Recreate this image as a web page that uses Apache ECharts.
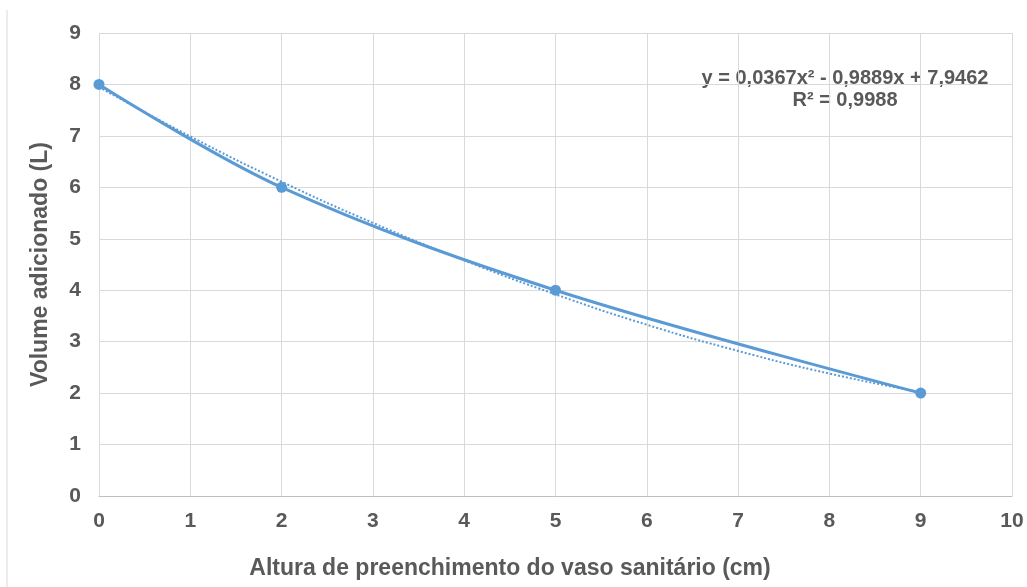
<!DOCTYPE html>
<html>
<head>
<meta charset="utf-8">
<script src="https://cdn.jsdelivr.net/npm/echarts@6/dist/echarts.min.js"></script>
<style>
html,body{margin:0;padding:0;background:#fff;}
#chart{width:1027px;height:587px;}
</style>
</head>
<body>
<div id="chart"></div>
<script>
// Measured data (x: altura cm, y: volume L)
var alturaCm = [0, 2, 5, 9];
var volumeL = [8, 6, 4, 2];
// Polynomial trendline
var trendX = [0, 1, 2, 3, 4, 5, 6, 7, 8, 9];
var trendY = [7.95, 6.99, 6.11, 5.31, 4.58, 3.92, 3.33, 2.82, 2.38, 2.02];
var equationText = 'y = 0,0367x² - 0,9889x + 7,9462';
var r2Text = 'R² = 0,9988';
var xAxisTitle = 'Altura de preenchimento do vaso sanitário (cm)';
var yAxisTitle = 'Volume adicionado (L)';

var measured = alturaCm.map(function (x, i) { return [x, volumeL[i]]; });
var trend = trendX.map(function (x, i) { return [x, trendY[i]]; });

var chart = echarts.init(document.getElementById('chart'));
var txtColor = '#595959';
var font = 'Arial, "Liberation Sans", sans-serif';
chart.setOption({
  animation: false,
  backgroundColor: '#fff',
  grid: { left: 99, right: 15, top: 33, bottom: 91 },
  xAxis: {
    type: 'value', min: 0, max: 10, interval: 1,
    axisLine: { show: true, lineStyle: { color: '#bfbfbf', width: 1 } },
    axisTick: { show: false },
    axisLabel: { color: txtColor, fontSize: 21, fontWeight: 'bold', fontFamily: font, margin: 15 },
    splitLine: { show: true, lineStyle: { color: '#d9d9d9', width: 1 } }
  },
  yAxis: {
    type: 'value', min: 0, max: 9, interval: 1,
    name: yAxisTitle, nameLocation: 'middle', nameGap: 47, nameRotate: 90,
    nameTextStyle: { color: txtColor, fontSize: 23, fontWeight: 'bold', fontFamily: font },
    axisLine: { show: false },
    axisTick: { show: false },
    axisLabel: { color: txtColor, fontSize: 21, fontWeight: 'bold', fontFamily: font, margin: 18 },
    splitLine: { show: true, lineStyle: { color: '#d9d9d9', width: 1 } }
  },
  graphic: [
    { type: 'line', shape: { x1: 7, y1: 10, x2: 7, y2: 587 }, style: { stroke: '#d9d9d9', lineWidth: 1 } },
    { type: 'text', x: 510, y: 569, style: { text: xAxisTitle, fill: txtColor, font: 'bold 23px ' + font, textAlign: 'center', textVerticalAlign: 'middle' } },
    { type: 'text', x: 845, y: 78, style: { text: equationText, fill: txtColor, font: 'bold 20px ' + font, textAlign: 'center', textVerticalAlign: 'middle' } },
    { type: 'text', x: 845, y: 100, style: { text: r2Text, fill: txtColor, font: 'bold 20px ' + font, textAlign: 'center', textVerticalAlign: 'middle' } }
  ],
  series: [
    {
      type: 'line', data: trend, smooth: true, showSymbol: false, symbol: 'none',
      lineStyle: { color: '#5B9BD5', width: 2, type: [2, 2] }, z: 3
    },
    {
      type: 'line', data: measured, smooth: 0.35, symbol: 'circle', symbolSize: 11,
      itemStyle: { color: '#5B9BD5' },
      lineStyle: { color: '#5B9BD5', width: 3 }, z: 4
    }
  ]
});
</script>
</body>
</html>
